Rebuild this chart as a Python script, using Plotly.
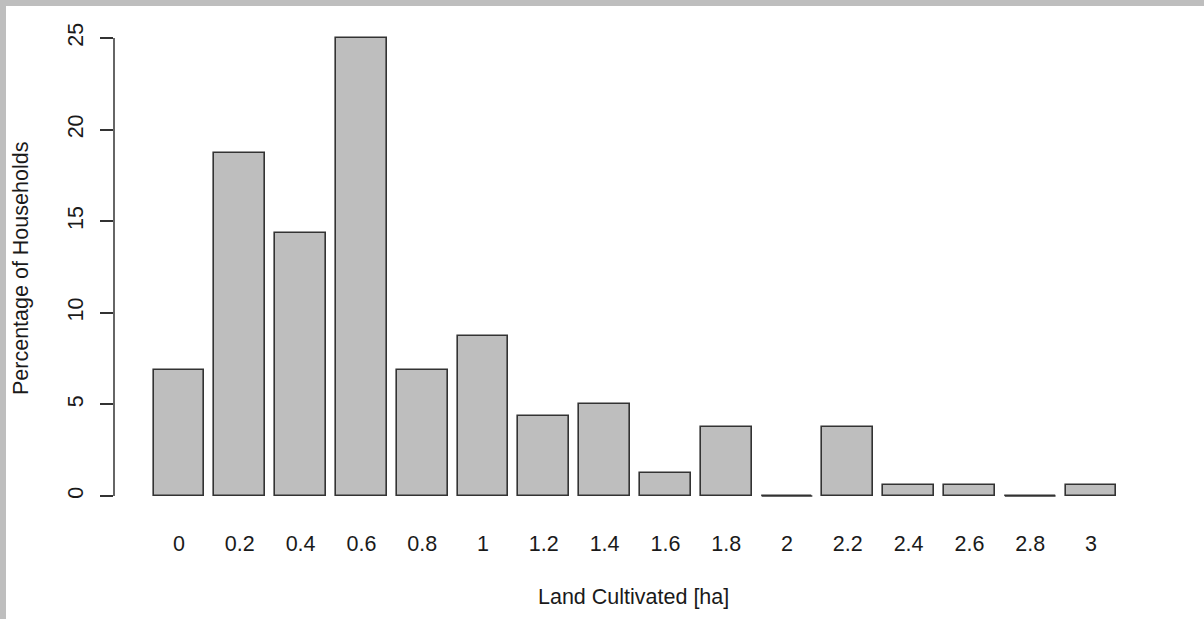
import plotly.graph_objects as go

# ---- data ----
categories = ["0", "0.2", "0.4", "0.6", "0.8", "1", "1.2", "1.4", "1.6", "1.8",
              "2", "2.2", "2.4", "2.6", "2.8", "3"]
percent_households = [6.875, 18.75, 14.375, 25, 6.875, 8.75, 4.375, 5, 1.25, 3.75,
                      0, 3.75, 0.625, 0.625, 0, 0.625]
y_ticks = [0, 5, 10, 15, 20, 25]
x_title = "Land Cultivated [ha]"
y_title = "Percentage of Households"

# ---- geometry ----
W, H = 1204, 619
ML, MR, MT, MB = 114, 39, 20, 105
PW, PH = W - ML - MR, H - MT - MB
BAR_W = 1 / 1.2

def px_x(p):
    return (p - ML) / PW

def px_y(p):
    return (H - MB - p) / PH

positions = list(range(len(categories)))
FONT = "Liberation Sans, Arial, sans-serif"
FS = 21.5

fig = go.Figure()
fig.add_trace(go.Bar(
    x=positions, y=percent_households, width=BAR_W,
    marker=dict(color="#BEBEBE", line=dict(color="#333333", width=1.6)),
    hoverinfo="x+y", showlegend=False,
))

# zero-height bars drawn as flat lines (as R does)
zx, zy = [], []
for p, v in zip(positions, percent_households):
    if v == 0:
        zx += [p - BAR_W / 2, p + BAR_W / 2, None]
        zy += [0, 0, None]
fig.add_trace(go.Scatter(x=zx, y=zy, mode="lines",
                         line=dict(color="#333333", width=1.4),
                         showlegend=False, hoverinfo="skip"))

fig.update_layout(
    width=W, height=H,
    margin=dict(l=ML, r=MR, t=MT, b=MB, pad=0),
    paper_bgcolor="white", plot_bgcolor="white",
    font=dict(family=FONT, size=FS, color="#1a1a1a"),
    bargap=0,
    xaxis=dict(
        range=[-1.069, -1.069 + PW / 60.8],
        tickmode="array", tickvals=positions, ticktext=categories,
        showgrid=False, zeroline=False, showline=False,
        ticks="", ticklabelstandoff=14,
        tickfont=dict(family=FONT, size=FS, color="#1a1a1a"),
    ),
    yaxis=dict(
        range=[-0.983, 25.983],
        tickmode="array", tickvals=y_ticks,
        showgrid=False, zeroline=False, showline=False,
        ticks="outside", ticklen=13, tickwidth=1.5, tickcolor="#333333",
        tickangle=-90, ticklabelstandoff=8,
        tickfont=dict(family=FONT, size=FS, color="#1a1a1a"),
    ),
    shapes=[
        # y axis line from first to last tick
        dict(type="line", xref="paper", yref="y", x0=0, x1=0,
             y0=y_ticks[0], y1=y_ticks[-1],
             line=dict(color="#333333", width=1.5)),
        # grey window frame (top and left)
        dict(type="rect", xref="paper", yref="paper",
             x0=px_x(0), x1=px_x(W), y0=px_y(6), y1=px_y(0),
             fillcolor="#BEBEBE", line=dict(width=0), layer="above"),
        dict(type="rect", xref="paper", yref="paper",
             x0=px_x(0), x1=px_x(6), y0=px_y(H), y1=px_y(0),
             fillcolor="#BEBEBE", line=dict(width=0), layer="above"),
    ],
    annotations=[
        dict(text=x_title, xref="paper", yref="paper",
             x=px_x(633), y=px_y(597), xanchor="center", yanchor="middle",
             showarrow=False, font=dict(family=FONT, size=FS, color="#1a1a1a")),
        dict(text=y_title, xref="paper", yref="paper",
             x=px_x(21), y=px_y(269), xanchor="center", yanchor="middle",
             textangle=-90,
             showarrow=False, font=dict(family=FONT, size=FS, color="#1a1a1a")),
    ],
)

fig.write_html("out.html",
               config={"displayModeBar": False},
               post_script="document.body.style.margin='0';"
                           "document.body.style.overflow='hidden';")
